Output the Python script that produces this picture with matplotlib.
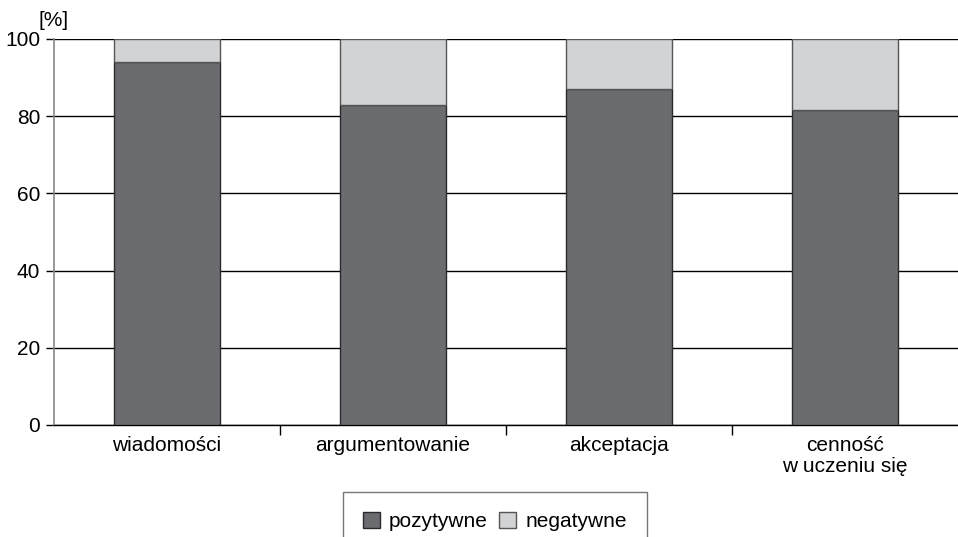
import matplotlib
matplotlib.use("Agg")
import matplotlib.pyplot as plt
import numpy as np
from matplotlib.ticker import FixedLocator

categories = ["wiadomości", "argumentowanie", "akceptacja", "cenność\nw uczeniu się"]
positive = [94.0, 83.0, 87.0, 81.6]
negative = [100 - v for v in positive]
yticks = [0, 20, 40, 60, 80, 100]
series_names = ["pozytywne", "negatywne"]

plt.rcParams['font.family'] = ['Liberation Sans', 'DejaVu Sans']
plt.rcParams['font.size'] = 15

fig = plt.figure(figsize=(9.58, 5.37), dpi=100)
ax = fig.add_axes([54/958, 1-425/537, 1-54/958, (425-39)/537])

x = np.arange(len(categories))
dark = "#6b6c70"
light = "#d2d3d5"
w = 0.47
b1 = ax.bar(x, positive, w, color=dark, edgecolor="#2a2a2a", linewidth=1.0, zorder=3, label=series_names[0])
b2 = ax.bar(x, negative, w, bottom=positive, color=light, edgecolor="#555555", linewidth=1.0, zorder=3, label=series_names[1])

ax.set_xlim(-0.5, len(categories) - 0.5)
ax.set_ylim(0, 100)
ax.set_yticks(yticks)
ax.yaxis.grid(True, color="black", linewidth=1.0, zorder=0)
ax.set_axisbelow(True)

ax.set_xticks(x)
ax.set_xticklabels(categories, linespacing=1.1)
ax.tick_params(axis='x', which='major', length=0, pad=8)
ax.xaxis.set_minor_locator(FixedLocator(np.arange(0.5, len(categories) - 0.5, 1)))
ax.tick_params(axis='x', which='minor', length=7, width=1, direction='out', color='black')
ax.tick_params(axis='y', length=6, width=1, color='black', pad=4)

for s in ['top', 'right']:
    ax.spines[s].set_visible(False)
ax.spines['left'].set_color('#888888')
ax.spines['left'].set_linewidth(1.2)
ax.spines['bottom'].set_color('black')
ax.spines['bottom'].set_linewidth(1.0)

fig.text(38/958, 1-20/537, "[%]", fontsize=15, ha='left', va='center')

leg = fig.legend(handles=[b1, b2], labels=series_names, loc='upper center',
                 bbox_to_anchor=(495/958, 1-492/537), ncol=2, frameon=True,
                 fancybox=False, edgecolor='#555555', handlelength=0.8, handleheight=0.8,
                 handletextpad=0.45, columnspacing=0.55, borderpad=0.95, borderaxespad=0,
                 fontsize=15)
leg.get_frame().set_linewidth(1.0)

fig.savefig("out.png", dpi=100)
